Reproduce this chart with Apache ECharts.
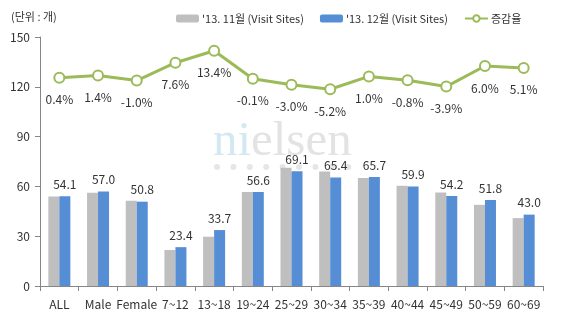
<!DOCTYPE html>
<html><head><meta charset="utf-8">
<script src="https://cdn.jsdelivr.net/npm/echarts@6/dist/echarts.min.js"></script>
<style>html,body{margin:0;padding:0;background:#fff}#c{width:565px;height:322px}</style>
</head><body><div id="c"></div>
<script>
const categories = ['ALL','Male','Female','7~12','13~18','19~24','25~29','30~34','35~39','40~44','45~49','50~59','60~69'];
const nov = [53.9,56.2,51.3,21.7,29.7,56.7,71.2,69.0,65.0,60.4,56.4,48.9,40.9];
const dec = [54.1,57.0,50.8,23.4,33.7,56.6,69.1,65.4,65.7,59.9,54.2,51.8,43.0];
const growth = [0.4,1.4,-1.0,7.6,13.4,-0.1,-3.0,-5.2,1.0,-0.8,-3.9,6.0,5.1];
const yTicks = [0,30,60,90,120,150];

const F = '"Noto Sans CJK KR","Noto Sans",sans-serif';
const TXT = '#333';
const chart = echarts.init(document.getElementById('c'));
const dots = [];
for (let i = 0; i < 9; i++) dots.push({type:'circle', shape:{cx:217+i*16.4, cy:167, r:3}, style:{fill:'#e6e6e6'}, z:-1});
chart.setOption({
  animation:false,
  textStyle:{fontFamily:F},
  graphic:[
    {type:'text', left:11, top:11, style:{text:'(단위 : 개)', fill:TXT, font:'11px '+F}},
    {type:'text', left:213, top:118, z:-1, style:{text:'ni', fill:'#d3e9f2', font:'49px "Liberation Serif",serif'}},
    {type:'text', left:251, top:118, z:-1, style:{text:'elsen', fill:'#e3e3e3', font:'49px "Liberation Serif",serif'}}
  ].concat(dots),
  legend:{
    left:171, top:8, itemGap:16, itemWidth:23, itemHeight:8,
    textStyle:{fontFamily:F, fontSize:11, color:TXT, padding:[0,0,0,-2]},
    data:[{name:"'13. 11월 (Visit Sites)"},{name:"'13. 12월 (Visit Sites)"},{name:'증감율'}]
  },
  grid:{left:40, right:22, top:37, bottom:36},
  xAxis:{
    type:'category', data:categories,
    axisLine:{lineStyle:{color:'#868686'}},
    axisTick:{show:true, length:5, lineStyle:{color:'#868686'}},
    axisLabel:{color:TXT, fontSize:12, margin:12, interval:0, fontFamily:F}
  },
  yAxis:[{
    type:'value', min:0, max:150, interval:30,
    axisLine:{show:true, lineStyle:{color:'#868686'}},
    axisTick:{show:true, length:5, lineStyle:{color:'#868686'}},
    splitLine:{show:false},
    axisLabel:{color:TXT, fontSize:12, margin:10, fontFamily:F}
  },{
    type:'value', min:-100, max:20, show:false, splitLine:{show:false}
  }],
  series:[
    {name:"'13. 11월 (Visit Sites)", type:'bar', data:nov, barWidth:11, barGap:'0%', itemStyle:{color:'#bfbfbf'}},
    {name:"'13. 12월 (Visit Sites)", type:'bar', data:dec, barWidth:11, itemStyle:{color:'#558ed5'},
      label:{show:true, position:'top', distance:6, color:TXT, fontSize:12, fontFamily:F, formatter:p=>p.value.toFixed(1)}},
    {name:'증감율', type:'line', yAxisIndex:1, data:growth, symbol:'emptyCircle', symbolSize:10,
      lineStyle:{color:'#9bbb59', width:3}, itemStyle:{color:'#9bbb59', borderWidth:2.5},
      label:{show:true, position:'bottom', distance:10, color:TXT, fontSize:12, fontFamily:F, formatter:p=>p.value.toFixed(1)+'%'}}
  ]
});
</script></body></html>
